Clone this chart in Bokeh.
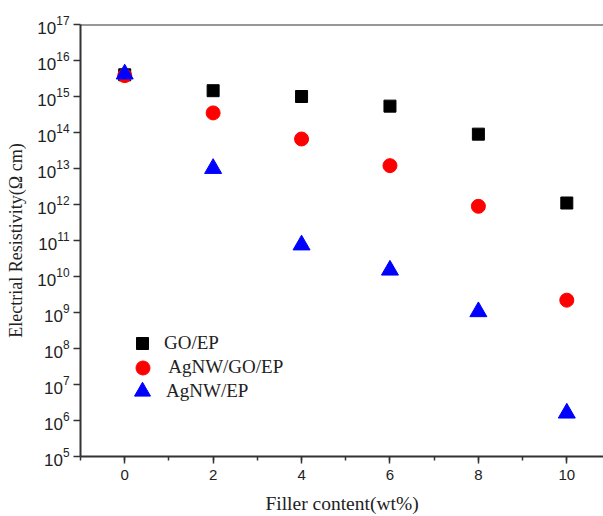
from bokeh.plotting import figure
from bokeh.models import (Range1d, FixedTicker, LogTickFormatter, SingleIntervalTicker,
                          Legend, LegendItem, Span)
from bokeh.embed import file_html
from bokeh.resources import INLINE

filler = [0, 2, 4, 6, 8, 10]
go_ep = [4.0e15, 1.45e15, 1.0e15, 5.4e14, 9.0e13, 1.1e12]
agnw_go_ep = [3.8e15, 3.5e14, 6.6e13, 1.2e13, 8.9e11, 2.2e9]
agnw_ep = [4.2e15, 1.0e13, 7.5e10, 1.5e10, 1.05e9, 1.6e6]
y_ticks = [10.0 ** k for k in range(5, 18)]
labels = ["GO/EP", " AgNW/GO/EP", "AgNW/EP"]

p = figure(width=603, height=516, y_axis_type="log",
           x_range=Range1d(-1, 10.83), y_range=Range1d(1e5, 1e17),
           output_backend="svg", toolbar_location=None,
           min_border_left=80, min_border_right=0, min_border_top=24, min_border_bottom=60)
p.outline_line_color = None
p.xgrid.visible = False
p.ygrid.visible = False
p.background_fill_color = "white"
p.border_fill_color = "white"

r1 = p.scatter(filler, go_ep, marker="square", size=12, color="black")
r2 = p.scatter(filler, agnw_go_ep, marker="circle", size=14, color="red")
r3 = p.scatter(filler, agnw_ep, marker="triangle", size=17, color="blue")

top = Span(location=1e17, dimension="width", line_color="#333333", line_width=2)
p.add_layout(top)

xa = p.xaxis[0]
xa.ticker = SingleIntervalTicker(interval=2, num_minor_ticks=2)
xa.axis_label = "Filler content(wt%)"
ya = p.yaxis[0]
ya.ticker = FixedTicker(ticks=y_ticks, minor_ticks=[])
ya.formatter = LogTickFormatter()
ya.axis_label = "Electrial Resistivity(\u03a9 cm)"

for ax in (xa, ya):
    ax.axis_line_color = "#333333"
    ax.axis_line_width = 2
    ax.major_tick_line_color = "#333333"
    ax.major_tick_line_width = 1.5
    ax.major_tick_in = 0
    ax.major_tick_out = 7
    ax.minor_tick_line_color = "#333333"
    ax.minor_tick_line_width = 1.5
    ax.minor_tick_in = 0
    ax.minor_tick_out = 4
    ax.major_label_text_font = "Liberation Sans"
    ax.major_label_text_color = "#222222"
    ax.axis_label_text_font = "Liberation Serif"
    ax.axis_label_text_font_style = "normal"
    ax.axis_label_text_color = "#222222"
xa.major_label_text_font_size = "15px"
ya.major_label_text_font_size = "17px"
xa.axis_label_text_font_size = "19.5px"
ya.axis_label_text_font_size = "18px"
xa.major_label_standoff = 6
xa.axis_label_standoff = 10
ya.major_label_standoff = 4
ya.axis_label_standoff = 8

specs = [(r1, labels[0], 30, (47, 98), 7),
         (r2, labels[1], 35, (44.5, 71.5), 5),
         (r3, labels[2], 40, (42, 45), 4)]
for rend, lab, g, loc, so in specs:
    lg = Legend(items=[LegendItem(label=lab, renderers=[rend])],
                location=loc, padding=0, margin=0, spacing=0,
                glyph_height=g, glyph_width=g, label_height=g,
                label_standoff=so, border_line_color=None,
                background_fill_alpha=0,
                label_text_font="Liberation Serif", label_text_font_size="19px",
                label_text_color="#222222")
    p.add_layout(lg)

open("out.html", "w").write(file_html(p, INLINE))
